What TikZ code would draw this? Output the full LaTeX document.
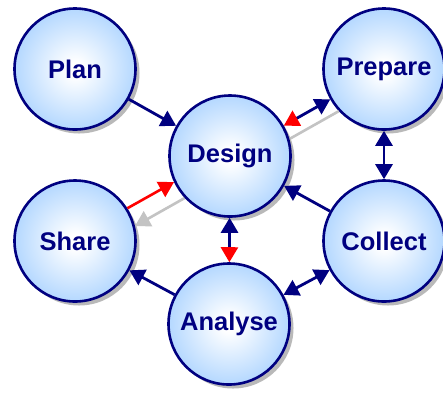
\documentclass[tikz,border=0pt]{standalone}
\usepackage{fontspec}
\setmainfont{Liberation Sans}
\usetikzlibrary{arrows.meta,shadows}
\definecolor{navyc}{RGB}{0,0,128}
\definecolor{ballblue}{RGB}{150,200,255}
\definecolor{shadowc}{RGB}{185,185,185}
\definecolor{greyline}{RGB}{195,195,195}
\pgfdeclareradialshading{myball}{\pgfpoint{0bp}{0bp}}{color(0bp)=(white); color(3bp)=(white); color(34bp)=(ballblue); color(50bp)=(ballblue)}
\begin{document}
\begin{tikzpicture}[x=1pt,y=-1pt,
  ball/.style={circle, minimum size=121pt, inner sep=0pt, draw=navyc, line width=2.6pt,
    shading=myball, text=navyc, font=\fontsize{25.5}{28}\selectfont\bfseries,
    drop shadow={shadow xshift=4pt, shadow yshift=-4pt, fill=shadowc, opacity=1}},
  link/.style={draw=navyc, line width=2.8pt},
  nav/.style={link, -{Triangle[length=15pt,width=17pt]}},
  both/.style={link, {Triangle[length=15pt,width=17pt]}-{Triangle[length=15pt,width=17pt]}}
]
\useasboundingbox (0,0) rectangle (443,392);
\fill[white] (0,0) rectangle (443,392);

\node[ball] (plan) at (75,69) {Plan};
\node[ball] (prep) at (384,69) {Prepare};
\node[ball] (share) at (75,241) {Share};
\node[ball] (coll) at (384,241) {Collect};
\node[ball] (anal) at (229,324) {Analyse};

% grey arrow behind Design
\draw[draw=greyline, line width=2.6pt, -{Triangle[length=15pt,width=17pt,color=greyline]}]
  (prep.223) -- (share.14);

\node[ball] (design) at (230,156) {Design};

\draw[nav] (plan) -- (design);
\draw[link, {Triangle[length=15pt,width=17pt,color=red]}-{Triangle[length=15pt,width=17pt]}] (design) -- (prep);
\draw[both] (prep) -- (coll);
\draw[nav] (coll) -- (design);
\draw[link, {Triangle[length=15pt,width=17pt]}-{Triangle[length=15pt,width=17pt,color=red]}] (design) -- (anal);
\draw[both] (coll) -- (anal);
\draw[nav] (anal) -- (share);
\draw[draw=red, line width=2.6pt, -{Triangle[length=15pt,width=17pt]}] (share.32) -- (design.205);
\end{tikzpicture}
\end{document}
